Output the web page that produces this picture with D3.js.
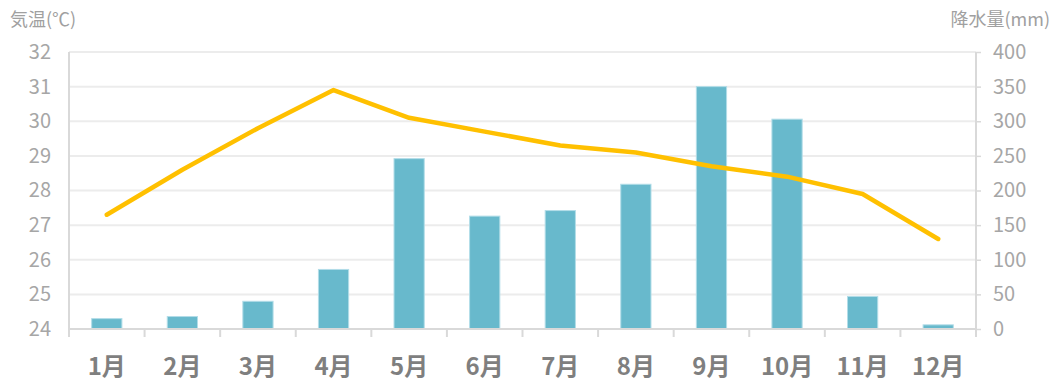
<!DOCTYPE html>
<html>
<head>
<meta charset="utf-8">
<script src="https://cdn.jsdelivr.net/npm/d3@7"></script>
<style>
  body { margin: 0; background: #fff; }
  text { font-family: "Noto Sans CJK JP", "Noto Sans", sans-serif; }
</style>
</head>
<body>
<div id="container"></div>
<script>
var months = ["1月","2月","3月","4月","5月","6月","7月","8月","9月","10月","11月","12月"];
var rain = [15, 18, 40, 86, 246, 163, 171, 209, 350, 303, 47, 6];
var temp = [27.3, 28.6, 29.8, 30.9, 30.1, 29.7, 29.3, 29.1, 28.7, 28.4, 27.9, 26.6];
var tempTicks = [24, 25, 26, 27, 28, 29, 30, 31, 32];
var rainTicks = [0, 50, 100, 150, 200, 250, 300, 350, 400];

var width = 1056, height = 387;
var plotLeft = 69, plotRight = 976, plotTop = 52, plotBottom = 329;

var svg = d3.select("#container").append("svg")
  .attr("width", width)
  .attr("height", height);

var x = d3.scaleBand().domain(months).range([plotLeft, plotRight]).padding(0);
var yT = d3.scaleLinear().domain([24, 32]).range([plotBottom, plotTop]);
var yR = d3.scaleLinear().domain([0, 400]).range([plotBottom, plotTop]);

// grid
svg.selectAll("line.grid")
  .data(tempTicks.slice(1))
  .enter().append("line")
  .attr("class", "grid")
  .attr("x1", plotLeft).attr("x2", plotRight)
  .attr("y1", function(d) { return yT(d); })
  .attr("y2", function(d) { return yT(d); })
  .attr("stroke", "#ececec")
  .attr("stroke-width", 2);

// bars
var barW = x.bandwidth() * 0.4;
svg.selectAll("rect.bar")
  .data(rain)
  .enter().append("rect")
  .attr("class", "bar")
  .attr("x", function(d, i) { return x(months[i]) + (x.bandwidth() - barW) / 2; })
  .attr("width", barW)
  .attr("y", function(d) { return yR(d); })
  .attr("height", function(d) { return plotBottom - yR(d); })
  .attr("fill", "#68b9cc")
  .attr("stroke", "#b2dde8")
  .attr("stroke-width", 1);

// left axis
var axL = svg.append("g")
  .attr("transform", "translate(" + plotLeft + ",0)")
  .call(d3.axisLeft(yT).tickValues(tempTicks).tickSize(0).tickPadding(18));
axL.select(".domain").remove();
axL.selectAll("text")
  .attr("fill", "#a6a6a6")
  .style("font-size", "20px");

// right axis
var axR = svg.append("g")
  .attr("transform", "translate(" + plotRight + ",0)")
  .call(d3.axisRight(yR).tickValues(rainTicks).tickSize(5).tickPadding(12));
axR.select(".domain").remove();
axR.selectAll("line").attr("stroke", "#d9d9d9").attr("stroke-width", 1.5);
axR.selectAll("text")
  .attr("fill", "#a6a6a6")
  .style("font-size", "20px");

// bottom axis ticks at category boundaries
var bounds = months.map(function(m) { return x(m); }).concat([plotRight]);
svg.selectAll("line.xtick")
  .data(bounds)
  .enter().append("line")
  .attr("class", "xtick")
  .attr("x1", function(d) { return d; })
  .attr("x2", function(d) { return d; })
  .attr("y1", plotBottom)
  .attr("y2", plotBottom + 8)
  .attr("stroke", "#d9d9d9")
  .attr("stroke-width", 2);

// axis lines
svg.append("line")
  .attr("x1", plotLeft).attr("x2", plotLeft).attr("y1", plotTop).attr("y2", plotBottom)
  .attr("stroke", "#d9d9d9").attr("stroke-width", 2);
svg.append("line")
  .attr("x1", plotRight).attr("x2", plotRight).attr("y1", plotTop).attr("y2", plotBottom)
  .attr("stroke", "#d9d9d9").attr("stroke-width", 2);
svg.append("line")
  .attr("x1", plotLeft).attr("x2", plotRight).attr("y1", plotBottom).attr("y2", plotBottom)
  .attr("stroke", "#d9d9d9").attr("stroke-width", 2);

// month labels
svg.selectAll("text.month")
  .data(months)
  .enter().append("text")
  .attr("class", "month")
  .attr("x", function(d) { return x(d) + x.bandwidth() / 2; })
  .attr("y", 375)
  .attr("text-anchor", "middle")
  .attr("fill", "#7f7f7f")
  .style("font-size", "24px")
  .style("font-weight", "bold")
  .text(function(d) { return d; });

// temperature line
var line = d3.line()
  .x(function(d, i) { return x(months[i]) + x.bandwidth() / 2; })
  .y(function(d) { return yT(d); });
svg.append("path")
  .datum(temp)
  .attr("d", line)
  .attr("fill", "none")
  .attr("stroke", "#ffc000")
  .attr("stroke-width", 4.5)
  .attr("stroke-linejoin", "round")
  .attr("stroke-linecap", "round");

// axis titles
svg.append("text")
  .attr("x", 10).attr("y", 26)
  .attr("fill", "#a0a0a0")
  .style("font-size", "18px")
  .text("気温(℃)");
svg.append("text")
  .attr("x", 1050).attr("y", 26)
  .attr("text-anchor", "end")
  .attr("fill", "#a0a0a0")
  .style("font-size", "18px")
  .text("降水量(mm)");
</script>
</body>
</html>
